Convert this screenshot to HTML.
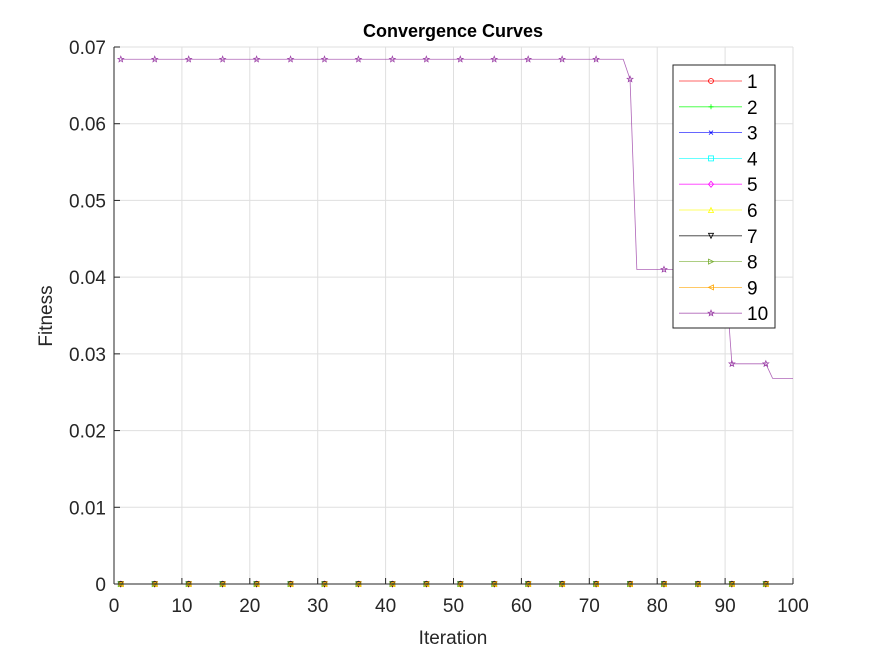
<!DOCTYPE html>
<html><head><meta charset="utf-8"><style>
body{margin:0;background:#fff;}
svg text{font-family:"Liberation Sans",Arial,sans-serif;}
</style></head><body>
<svg id="chart" width="875" height="656" viewBox="0 0 875 656">
<rect x="0" y="0" width="875" height="656" fill="#fff"/>
<rect x="114" y="47" width="679" height="537" fill="#fff" stroke="none"/>
<g id="grid"></g>
<g id="series"></g>
<g id="axes"></g>
<text x="453" y="37" font-size="18" font-weight="bold" text-anchor="middle">Convergence Curves</text>
<text x="453" y="644" font-size="19" text-anchor="middle" fill="#262626">Iteration</text>
<text x="52" y="316" font-size="19" text-anchor="middle" fill="#262626" transform="rotate(-90 52 316)">Fitness</text>
<g id="legend"></g>
</svg>
<script>
const xTicks=[0,10,20,30,40,50,60,70,80,90,100];
const yTicks=[0,0.01,0.02,0.03,0.04,0.05,0.06,0.07];
const yTickLabels=["0","0.01","0.02","0.03","0.04","0.05","0.06","0.07"];
const seriesNames=["1","2","3","4","5","6","7","8","9","10"];
const seriesColors=["#ff0000","#00ff00","#0000ff","#00ffff","#ff00ff","#ffff00","#000000","#77ac30","#ffa500","#9b3fa6"];
const seriesMarkers=["circle","plus","x","square","diamond","tri-up","tri-down","tri-right","tri-left","star"];
const iterations=Array.from({length:100},(_,i)=>i+1);
const zeroSeries=iterations.map(()=>0);
const series10=[];
for(const it of iterations){
  if(it<=75) series10.push(0.0684);
  else if(it===76) series10.push(0.0658);
  else if(it<=90) series10.push(0.0410);
  else if(it<=96) series10.push(0.0287);
  else series10.push(0.0268);
}
const seriesValues=[zeroSeries,zeroSeries,zeroSeries,zeroSeries,zeroSeries,zeroSeries,zeroSeries,zeroSeries,zeroSeries,series10];

const X0=114,X1=793,Y0=584,Y1=47;
const xs=v=>X0+(v-0)/(100-0)*(X1-X0);
const ys=v=>Y0-(v-0)/(0.07-0)*(Y0-Y1);
const NS="http://www.w3.org/2000/svg";
function mk(tag,attrs,parent){const e=document.createElementNS(NS,tag);for(const k in attrs)e.setAttribute(k,attrs[k]);parent.appendChild(e);return e;}
const grid=document.getElementById('grid'),axes=document.getElementById('axes'),ser=document.getElementById('series'),leg=document.getElementById('legend');
xTicks.forEach(t=>{
  const l=mk('line',{x1:xs(t),x2:xs(t),y1:Y1,y2:Y0,stroke:'#dfdfdf','stroke-width':1},grid);
  
  mk('line',{x1:xs(t),x2:xs(t),y1:Y0,y2:Y0-6,stroke:'#262626','stroke-width':1},axes);
  const tx=mk('text',{x:xs(t),y:Y0+28,'font-size':19,'text-anchor':'middle',fill:'#262626'},axes);
  tx.textContent=t;
  
});
yTicks.forEach((t,i)=>{
  const l=mk('line',{x1:X0,x2:X1,y1:ys(t),y2:ys(t),stroke:'#dfdfdf','stroke-width':1},grid);
  
  mk('line',{x1:X0,x2:X0+6,y1:ys(t),y2:ys(t),stroke:'#262626','stroke-width':1},axes);
  const tx=mk('text',{x:X0-8,y:ys(t)+7,'font-size':19,'text-anchor':'end',fill:'#262626'},axes);
  tx.textContent=yTickLabels[i];
  
});
mk('line',{x1:X0,x2:X0,y1:Y1,y2:Y0,stroke:'#262626','stroke-width':1},axes);
mk('line',{x1:X0,x2:X1,y1:Y0,y2:Y0,stroke:'#262626','stroke-width':1},axes);

function marker(type,x,y,c,g){
  const s=2.5,a={fill:'none',stroke:c,'stroke-width':0.8};
  let e;
  switch(type){
    case 'circle':e=mk('circle',Object.assign({cx:x,cy:y,r:s},a),g);break;
    case 'plus':e=mk('path',Object.assign({d:`M${x-s},${y}H${x+s}M${x},${y-s}V${y+s}`},a),g);break;
    case 'x':e=mk('path',Object.assign({d:`M${x-2},${y-2}L${x+2},${y+2}M${x-2},${y+2}L${x+2},${y-2}`},a),g);break;
    case 'square':e=mk('rect',Object.assign({x:x-s,y:y-s,width:2*s,height:2*s},a),g);break;
    case 'diamond':e=mk('path',Object.assign({d:`M${x},${y-s-0.5}L${x+s},${y}L${x},${y+s+0.5}L${x-s},${y}Z`},a),g);break;
    case 'tri-up':e=mk('path',Object.assign({d:`M${x},${y-s}L${x+s},${y+s}L${x-s},${y+s}Z`},a),g);break;
    case 'tri-down':e=mk('path',Object.assign({d:`M${x},${y+s}L${x+s},${y-s}L${x-s},${y-s}Z`},a),g);break;
    case 'tri-right':e=mk('path',Object.assign({d:`M${x+s},${y}L${x-s},${y-s}L${x-s},${y+s}Z`},a),g);break;
    case 'tri-left':e=mk('path',Object.assign({d:`M${x-s},${y}L${x+s},${y-s}L${x+s},${y+s}Z`},a),g);break;
    default:{let d='';for(let k=0;k<10;k++){const r=k%2?1.3:3,an=-Math.PI/2+k*Math.PI/5;d+=(k?'L':'M')+(x+r*Math.cos(an)).toFixed(2)+','+(y+r*Math.sin(an)).toFixed(2);}e=mk('path',Object.assign({d:d+'Z'},a),g);}
  }
  return e;
}
seriesValues.forEach((vals,si)=>{
  const g=mk('g',{},ser);
  
  const d=vals.map((v,i)=>(i?'L':'M')+xs(iterations[i]).toFixed(2)+','+ys(v).toFixed(2)).join('');
  const p=mk('path',{d:d,fill:'none',stroke:seriesColors[si],'stroke-width':0.8,'stroke-opacity':0.8},g);
  
  vals.forEach((v,i)=>{if((iterations[i]-1)%5===0){
    const m=marker(seriesMarkers[si],xs(iterations[i]),ys(v),seriesColors[si],g);
    
  }});
});
const lb=mk('rect',{x:673,y:65,width:102,height:263,fill:'#fff',stroke:'#262626','stroke-width':1},leg);

seriesNames.forEach((n,i)=>{
  const y=81+i*25.8;
  const g=mk('g',{},leg);
  
  mk('line',{x1:679,x2:742,y1:y,y2:y,stroke:seriesColors[i],'stroke-width':0.8,'stroke-opacity':0.8},g);
  marker(seriesMarkers[i],711,y,seriesColors[i],g);
  const t=mk('text',{x:747,y:y+7,'font-size':19,fill:'#000'},g);
  t.textContent=n;
});
</script>
</body></html>
